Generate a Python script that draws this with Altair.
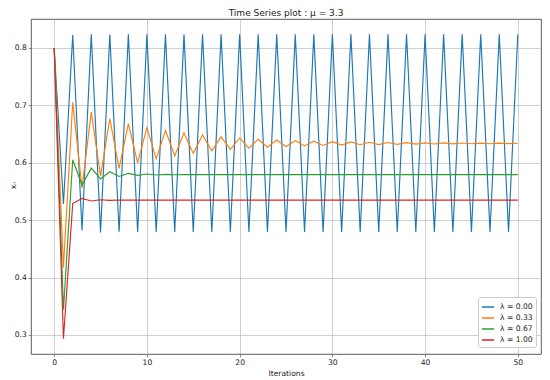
import altair as alt
import pandas as pd

iterations = list(range(51))

lam_000 = [0.8000, 0.5280, 0.8224, 0.4820, 0.8239, 0.4787, 0.8235, 0.4796, 0.8236, 0.4794,
           0.8236, 0.4794, 0.8236, 0.4794, 0.8236, 0.4794, 0.8236, 0.4794, 0.8236, 0.4794,
           0.8236, 0.4794, 0.8236, 0.4794, 0.8236, 0.4794, 0.8236, 0.4794, 0.8236, 0.4794,
           0.8236, 0.4794, 0.8236, 0.4794, 0.8236, 0.4794, 0.8236, 0.4794, 0.8236, 0.4794,
           0.8236, 0.4794, 0.8236, 0.4794, 0.8236, 0.4794, 0.8236, 0.4794, 0.8236, 0.4794,
           0.8236]
lam_033 = [0.8000, 0.4177, 0.7054, 0.5563, 0.6882, 0.5770, 0.6766, 0.5903, 0.6680, 0.5997,
           0.6613, 0.6067, 0.6561, 0.6121, 0.6518, 0.6163, 0.6485, 0.6206, 0.6451, 0.6234,
           0.6427, 0.6255, 0.6409, 0.6271, 0.6395, 0.6283, 0.6384, 0.6293, 0.6375, 0.6301,
           0.6368, 0.6307, 0.6362, 0.6313, 0.6357, 0.6317, 0.6353, 0.6321, 0.6350, 0.6324,
           0.6347, 0.6326, 0.6345, 0.6328, 0.6343, 0.6330, 0.6342, 0.6331, 0.6341, 0.6332,
           0.6340]
lam_067 = [0.8000, 0.3438, 0.6051, 0.5611, 0.5906, 0.5717, 0.5843, 0.5761, 0.5815, 0.5779,
           0.5803, 0.5787, 0.5797, 0.5791, 0.5795, 0.5792, 0.5794, 0.5793, 0.5794, 0.5793,
           0.5793, 0.5793, 0.5793, 0.5793, 0.5793, 0.5793, 0.5793, 0.5793, 0.5793, 0.5793,
           0.5793, 0.5793, 0.5793, 0.5793, 0.5793, 0.5793, 0.5793, 0.5793, 0.5793, 0.5793,
           0.5793, 0.5793, 0.5793, 0.5793, 0.5793, 0.5793, 0.5793, 0.5793, 0.5793, 0.5793,
           0.5793]
lam_100 = [0.8000, 0.2933, 0.5289, 0.5378, 0.5334, 0.5356, 0.5345, 0.5351, 0.5348, 0.5349,
           0.5349, 0.5349, 0.5349, 0.5349, 0.5349, 0.5349, 0.5349, 0.5349, 0.5349, 0.5349,
           0.5349, 0.5349, 0.5349, 0.5349, 0.5349, 0.5349, 0.5349, 0.5349, 0.5349, 0.5349,
           0.5349, 0.5349, 0.5349, 0.5349, 0.5349, 0.5349, 0.5349, 0.5349, 0.5349, 0.5349,
           0.5349, 0.5349, 0.5349, 0.5349, 0.5349, 0.5349, 0.5349, 0.5349, 0.5349, 0.5349,
           0.5349]

series_names = ["λ = 0.00", "λ = 0.33", "λ = 0.67", "λ = 1.00"]
series_values = [lam_000, lam_033, lam_067, lam_100]
colors = ["#1f77b4", "#ff7f0e", "#2ca02c", "#d62728"]

rows = []
for k, (name, vals) in enumerate(zip(series_names, series_values)):
    for n, v in zip(iterations, vals):
        rows.append({"n": n, "x": v, "series": name, "k": k})
df = pd.DataFrame(rows)

FONT = "DejaVu Sans"

chart = alt.Chart(df).mark_line(strokeWidth=1.15, clip=True).encode(
    x=alt.X("n:Q", scale=alt.Scale(domain=[-2.5, 52.5], nice=False, zero=False),
            axis=alt.Axis(title="Iterations", values=[0, 10, 20, 30, 40, 50], format="d",
                          titlePadding=3)),
    y=alt.Y("x:Q", scale=alt.Scale(domain=[0.2668, 0.8504], nice=False, zero=False),
            axis=alt.Axis(title="xₙ", values=[0.3, 0.4, 0.5, 0.6, 0.7, 0.8], format=".1f",
                          titleX=-18, titleY=166, titleAlign="center", titleBaseline="middle")),
    color=alt.Color("series:N", scale=alt.Scale(domain=series_names, range=colors),
                    legend=alt.Legend(title=None, orient="none", legendX=447, legendY=278,
                                      symbolType="stroke", symbolStrokeWidth=1.5,
                                      symbolSize=150, labelFontSize=7.6, labelFont=FONT,
                                      labelColor="#222222",
                                      fillColor="white", strokeColor="#cccccc",
                                      cornerRadius=2, padding=3, rowPadding=-1.5,
                                      labelOffset=5)),
    order=alt.Order("k:Q"),
    detail="series:N",
).properties(
    width=510, height=335,
    title=alt.TitleParams("Time Series plot : μ = 3.3", fontSize=9, font=FONT,
                          fontWeight="normal", color="#222222", offset=1),
    autosize=alt.AutoSizeParams(type="none"),
    padding={"left": 23, "top": 11, "right": 1, "bottom": 26},
).configure_view(
    stroke="#333333", strokeWidth=0.8,
).configure_axis(
    grid=True, gridColor="#b0b0b0", gridWidth=0.6,
    domain=False, ticks=True, tickColor="#333333", tickSize=2.7, tickWidth=0.6,
    labelFont=FONT, labelFontSize=7.6, labelColor="#222222", labelPadding=2,
    titleFont=FONT, titleFontSize=7.6, titleFontWeight="normal", titleColor="#222222",
)

chart.save("out.html", embed_options={"renderer": "svg", "actions": False})
